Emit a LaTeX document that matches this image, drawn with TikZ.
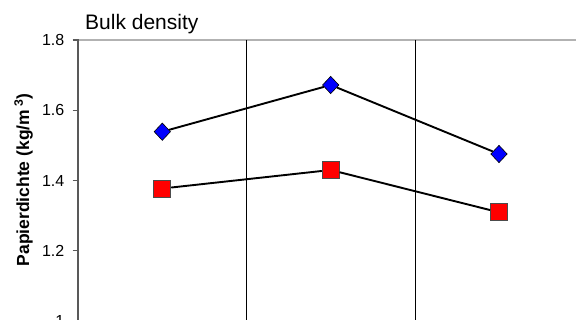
\documentclass[tikz,border=0pt]{standalone}
\usepackage{fontspec}
\setmainfont{Liberation Sans}
\usetikzlibrary{positioning, shapes.geometric}

\begin{document}
\begin{tikzpicture}[
		x=1pt, y=-1pt,
		ticklabel/.style={font=\fontsize{16}{18}\selectfont, anchor=east, inner sep=0pt},
		dmark/.style={diamond, draw=black, fill=blue, minimum width=16.5pt, minimum height=17.5pt, inner sep=0pt, line width=0.6pt},
		smark/.style={rectangle, draw=black!70, fill=red, minimum size=17pt, inner sep=0pt, line width=0.8pt},
		series/.style={line width=1.9pt},
		gridl/.style={line width=1pt},
	]
	\useasboundingbox (0,0) rectangle (576,320);
	% frame and grid
	\draw[black!30, line width=1.3pt] (78,40) -- (576,40);
	\draw[gridl] (246.3,40) -- (246.3,322);
	\draw[gridl] (415.3,40) -- (415.3,322);
	\draw[black!65, line width=1.4pt] (78,39.4) -- (78,322);
	\foreach \v/\y [count=\i] in {1.8/40, 1.6/110.3, 1.4/180.6, 1.2/250.9, 1/321.2} {
		\draw[black!65, line width=1.2pt] (72.5,\y) -- (78,\y);
		\node[ticklabel] (tick\i) at (64.5,\y) {\v};
	}
	\node[anchor=base west, inner sep=0pt, font=\fontsize{21}{24}\selectfont] (title) at (85,29.5) {Bulk density};
	\node[rotate=90, font=\fontsize{17.5}{20}\selectfont\bfseries] (ylabel) at (23.5,180) {Papierdichte (kg/m\,\textsuperscript{3})};

	% series
	\node[dmark] (b1) at (162.3,131.7) {};
	\node[dmark] (b2) at (330.7,85) {};
	\node[dmark] (b3) at (499,154) {};
	\node[smark] (r1) at (162.3,188.5) {};
	\node[smark] (r2) at (330.7,170) {};
	\node[smark] (r3) at (499,212.3) {};

	\draw[series] (b1) -- (b2) -- (b3);
	\draw[series] (r1) -- (r2) -- (r3);
\end{tikzpicture}
\end{document}
